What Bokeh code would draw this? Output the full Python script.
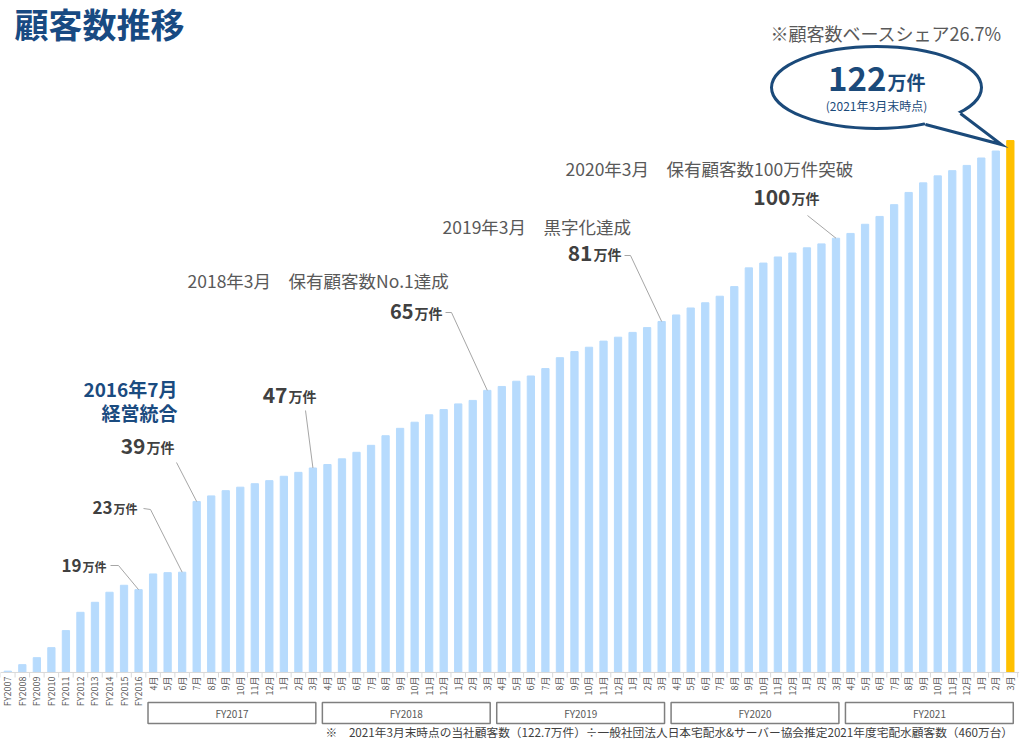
import math
from bokeh.plotting import figure
from bokeh.models import Range1d
from bokeh.core.properties import value
from bokeh.embed import file_html
from bokeh.resources import INLINE

# ---------------- data ----------------
annual_labels = ["FY2007", "FY2008", "FY2009", "FY2010", "FY2011", "FY2012",
                 "FY2013", "FY2014", "FY2015", "FY2016"]
annual_values = [0.3, 1.8, 3.4, 5.7, 9.6, 13.8, 16.1, 18.4, 20.0, 19.0]

month_labels = ["4月", "5月", "6月", "7月", "8月", "9月", "10月", "11月", "12月", "1月", "2月", "3月"]
fiscal_groups = ["FY2017", "FY2018", "FY2019", "FY2020", "FY2021"]

fy2017 = [22.6, 22.9, 23.0, 39.2, 40.5, 41.7, 42.5, 43.3, 44.0, 45.0, 45.9, 46.9]
fy2018 = [47.7, 49.0, 50.5, 52.1, 54.3, 56.0, 57.4, 59.1, 60.3, 61.6, 62.4, 64.7]
fy2019 = [65.6, 66.8, 68.0, 69.7, 72.2, 73.6, 74.6, 76.0, 76.9, 78.0, 79.1, 80.5]
fy2020 = [82.0, 83.6, 84.8, 86.3, 88.5, 92.8, 93.9, 95.3, 96.2, 97.4, 98.3, 99.6]
fy2021 = [100.7, 102.8, 104.6, 107.3, 110.1, 112.3, 113.9, 115.1, 116.3, 118.0, 119.6, 122.0]

callout_numbers = ["19", "23", "39", "47", "65", "81", "100"]
milestones = ["2018年3月　保有顧客数No.1達成", "2019年3月　黒字化達成", "2020年3月　保有顧客数100万件突破"]

# ---------------- build ----------------
monthly = [fy2017, fy2018, fy2019, fy2020, fy2021]
values = annual_values + [v for g in monthly for v in g]
labels = annual_labels + month_labels * len(fiscal_groups)
n = len(values)
idx = list(range(n))

FONT = value("Noto Sans CJK JP")
W, H = 1024, 742
X0, SX = -0.502, 14.53
Y0, SY = -16.06, 4.36

def xd(px):
    return X0 + px / SX

def yd(py):
    return Y0 + (H - py) / SY

p = figure(width=W, height=H, output_backend="svg", toolbar_location=None,
           x_range=Range1d(X0, X0 + W / SX), y_range=Range1d(Y0, Y0 + H / SY),
           x_axis_location=None, y_axis_location=None, min_border=0)
p.grid.visible = False
p.outline_line_color = None
p.background_fill_color = "white"
p.border_fill_color = "white"

# bars
colors = ["#b7dbfd"] * (n - 1) + ["#ffc000"]
p.vbar(x=idx, top=values, bottom=0, width=0.5, color=colors)

# axis line and ticks
p.segment(x0=[X0], y0=[0], x1=[n - 0.4], y1=[0], line_color="#d9d9d9", line_width=1)
tx = [i - 0.5 for i in range(n + 1)]
p.segment(x0=tx, y0=[0] * len(tx), x1=tx, y1=[yd(677)] * len(tx),
          line_color="#d9d9d9", line_width=1)

# tick labels (rotated)
p.text(x=idx, y=[yd(676)] * n, text=labels, angle=math.pi / 2,
       text_align="right", text_baseline="middle", text_font=FONT,
       text_font_size="9px", text_color="#595959")

# fiscal group boxes
na = len(annual_values)
starts = [na + 12 * k for k in range(len(fiscal_groups))]
ends = [s + 11 for s in starts]
p.quad(left=[s - 0.35 for s in starts], right=[e + 0.2 for e in ends],
       top=[yd(702)] * len(starts), bottom=[yd(723)] * len(starts),
       fill_color="white", line_color="#7f7f7f", line_width=1.5)
p.text(x=[(s + e) / 2 - 0.07 for s, e in zip(starts, ends)], y=[yd(712.5)] * len(starts),
       text=fiscal_groups, text_align="center", text_baseline="middle",
       text_font=FONT, text_font_size="10px", text_color="#595959")

# callouts: (bar index, split px, label y px, number size, unit size, leader start points px)
callouts = [
    (9, 81, 565, 17, 12, [(110, 565), (118, 565)]),
    (12, 112, 507, 17, 12, [(143, 508), (150, 509)]),
    (13, 145, 445, 21, 14, [(176, 462)]),
    (21, 287, 394, 21, 14, [(305, 410)]),
    (33, 413, 311, 20, 14, [(445, 312), (451, 312)]),
    (45, 592, 252, 21, 14, [(624, 255), (630, 255)]),
    (57, 790, 196, 21, 14, [(807, 215)]),
]
for num, (bi, sx, ly, ns, us, pts) in zip(callout_numbers, callouts):
    xs = [xd(a) for a, b in pts] + [bi]
    ys = [yd(b) for a, b in pts] + [values[bi]]
    p.line(xs, ys, line_color="#a6a6a6", line_width=1)
    p.text(x=[xd(sx)], y=[yd(ly)], text=[num], text_align="right", text_baseline="middle",
           text_font=FONT, text_font_style="bold", text_font_size=f"{ns}px", text_color="#404040")
    p.text(x=[xd(sx + 1)], y=[yd(ly + 1)], text=["万件"], text_align="left", text_baseline="middle",
           text_font=FONT, text_font_style="bold", text_font_size=f"{us}px", text_color="#404040")

# milestone texts
for t, (mx, my) in zip(milestones, [(187, 280), (442, 226), (565, 168)]):
    p.text(x=[xd(mx)], y=[yd(my)], text=[t], text_align="left", text_baseline="middle",
           text_font=FONT, text_font_size="17.5px", text_color="#595959")

# 2016 merger
p.text(x=[xd(177)] * 2, y=[yd(388), yd(412)], text=["2016年7月", "経営統合"],
       text_align="right", text_baseline="middle", text_font=FONT,
       text_font_style="bold", text_font_size="19px", text_color="#1a4b80")

# title
p.text(x=[xd(14)], y=[yd(23)], text=["顧客数推移"], text_align="left", text_baseline="middle",
       text_font=FONT, text_font_style="bold", text_font_size="34px", text_color="#184a82")

# share note
p.text(x=[xd(770)], y=[yd(32)], text=["※顧客数ベースシェア26.7%"], text_align="left",
       text_baseline="middle", text_font=FONT, text_font_size="18px", text_color="#595959")

# speech bubble
BLUE = "#1b4a7a"
p.ellipse(x=[xd(876)], y=[yd(87)], width=[210 / SX], height=[82 / SY],
          fill_color="white", line_color=BLUE, line_width=3)
tail_fill = [(952, 108), (960, 113), (1001, 144), (925, 124), (922, 118)]
p.patch([xd(a) for a, b in tail_fill], [yd(b) for a, b in tail_fill],
        fill_color="white", line_color=None)
tail_line = [(960, 113), (1001, 144), (925, 124)]
p.line([xd(a) for a, b in tail_line], [yd(b) for a, b in tail_line],
       line_color=BLUE, line_width=3, line_join="miter")
p.text(x=[xd(886)], y=[yd(78)], text=["122"], text_align="right", text_baseline="middle",
       text_font=FONT, text_font_style="bold", text_font_size="33px", text_color=BLUE)
p.text(x=[xd(887)], y=[yd(81)], text=["万件"], text_align="left", text_baseline="middle",
       text_font=FONT, text_font_style="bold", text_font_size="19px", text_color=BLUE)
p.text(x=[xd(876)], y=[yd(105)], text=["(2021年3月末時点)"], text_align="center",
       text_baseline="middle", text_font=FONT, text_font_size="12px", text_color=BLUE)

# footnote
p.text(x=[xd(325)], y=[yd(731)],
       text=["※　2021年3月末時点の当社顧客数（122.7万件）÷一般社団法人日本宅配水&サーバー協会推定2021年度宅配水顧客数（460万台）"],
       text_align="left", text_baseline="middle", text_font=FONT, text_font_size="11.7px",
       text_color="#404040")

open("out.html", "w").write(file_html(p, INLINE))
